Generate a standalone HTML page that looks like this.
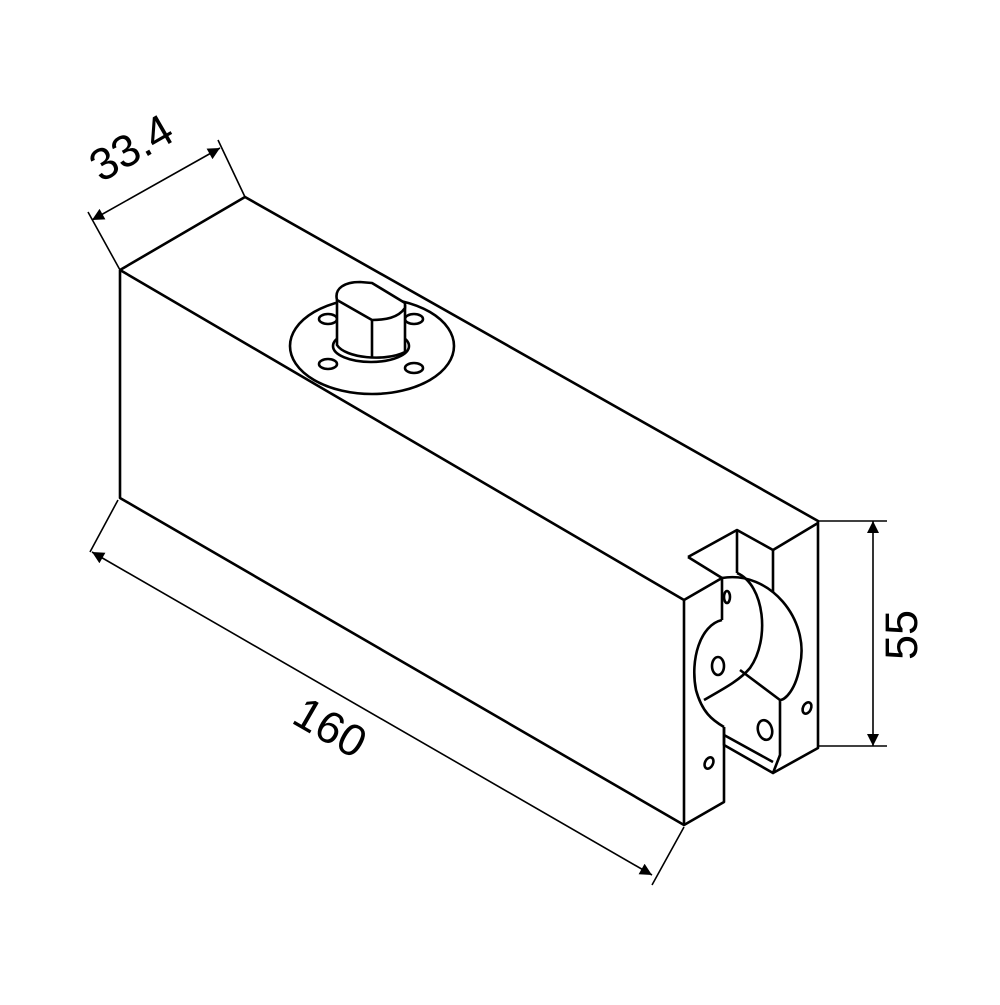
<!DOCTYPE html>
<html><head><style>body{margin:0;background:#fff}</style></head><body>
<svg width="1000" height="1000" viewBox="0 0 1000 1000" xmlns="http://www.w3.org/2000/svg">
<defs>
<marker id="b" viewBox="0 0 10 10" refX="10" refY="5" markerWidth="16" markerHeight="12" markerUnits="userSpaceOnUse" orient="auto-start-reverse"><path d="M0,0L10,5L0,10z" fill="#000"/></marker></defs>
<g fill="none" stroke="#000" stroke-width="2.6" stroke-linejoin="round">
<path d="M120,270 L245,197 L818,521 L818,748 L773,773"/>
<path d="M120,270 L120,498 L684,825 L724,802 L724,727"/>
<path d="M120,270 L684,600 L684,825"/>
<path d="M684,600 L722,578 L722,620"/>
<path d="M688,557 L737,530 L773,550 L818,523"/>
<path d="M688,557 L722,578"/>
<path d="M737,530 L737,573"/>
<path d="M773,550 L773,592"/>
<path d="M722,620 C700,625 690,660 696,690 C702,712 712,720 724,727"/>
<path d="M722,578 C770,570 810,620 800,665 C796,690 785,700 780,700 L780,755 L773,773 L724,745 L724,727"/>
<path d="M737,573 C765,585 770,640 750,668 C740,680 725,688 704,700"/>
<path d="M740,670 L780,700"/>
<path d="M724,735 L773,762"/>
<ellipse cx="718" cy="666" rx="6" ry="9"/>
<ellipse cx="765" cy="730" rx="7" ry="10" transform="rotate(-15 765 730)"/>
<ellipse cx="727" cy="597" rx="3" ry="6"/>
<ellipse cx="807" cy="708" rx="4" ry="6" transform="rotate(25 807 708)"/>
<ellipse cx="709" cy="763" rx="4" ry="6" transform="rotate(25 709 763)"/>
<ellipse cx="372" cy="346" rx="82" ry="48"/>
<ellipse cx="371" cy="346" rx="38" ry="16"/>
<ellipse cx="328" cy="319" rx="9" ry="5"/>
<ellipse cx="414" cy="319" rx="9" ry="5"/>
<ellipse cx="328" cy="364" rx="9" ry="5"/>
<ellipse cx="414" cy="368" rx="9" ry="5"/>
<path d="M337,300 L337,345 C345,358 385,362 405,352 L405,305" fill="#fff"/>
<path d="M337,300 C334,288 345,282 360,282 L372,283 L405,303 L405,308 C398,318 385,320 372,320 Z" fill="#fff"/>
<path d="M372,320 L372,357"/>
</g>
<g stroke="#000" stroke-width="1.6" fill="none">
<path d="M120,270 L88,212 M245,197 L218,140"/>
<path d="M92,220 L220,148" marker-start="url(#b)" marker-end="url(#b)"/>
<path d="M118,500 L90,552 M684,827 L652,885"/>
<path d="M92,552 L652,875" marker-start="url(#b)" marker-end="url(#b)"/>
<path d="M818,521 L887,521 M818,746 L887,746"/>
<path d="M873,521 L873,746" marker-start="url(#b)" marker-end="url(#b)"/>
</g>
<g font-family="Liberation Sans, sans-serif" font-size="45" fill="#000">
<text transform="translate(101,183) rotate(-30)">33.4</text>
<text transform="translate(290,722) rotate(30)">160</text>
<text transform="translate(917,660) rotate(-90)">55</text>
</g>
</svg>
</body></html>
